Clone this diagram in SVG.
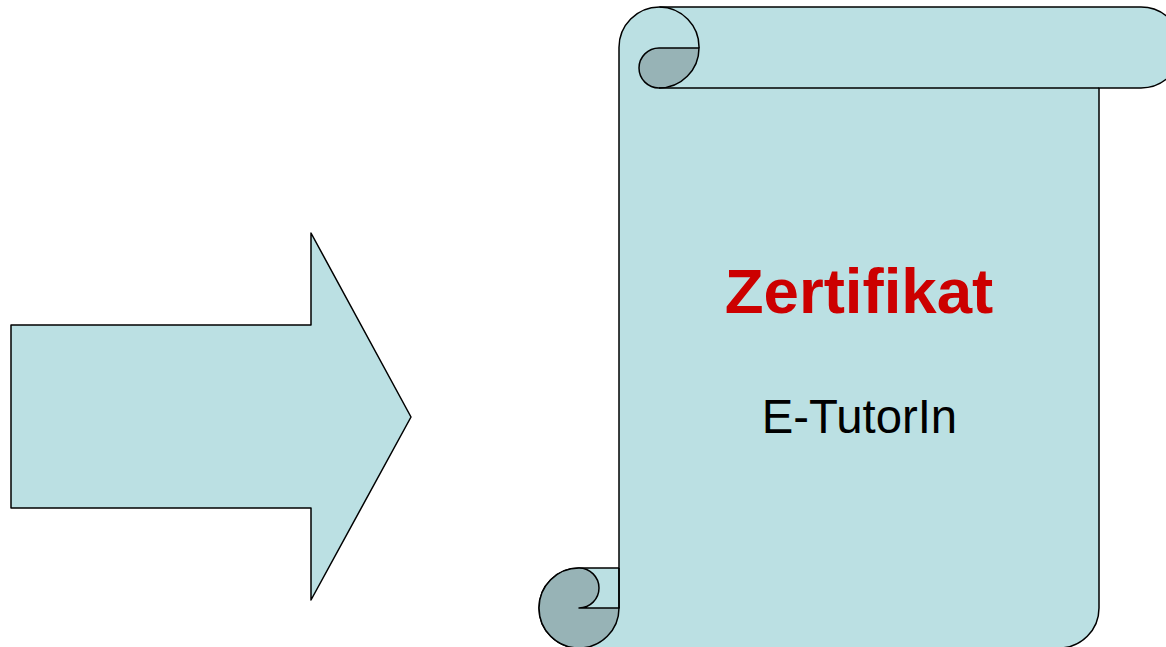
<svg xmlns="http://www.w3.org/2000/svg" width="1166" height="647" viewBox="0 0 1166 647">
<style>
.s{stroke:#000;stroke-width:1.5;stroke-linejoin:round}
.l{fill:#BBE0E3}
.d{fill:#97B3B6}
.t{font-family:"Liberation Sans",Arial,sans-serif;text-anchor:middle}
</style>
<rect width="1166" height="647" fill="#fff"/>
<g id="arrow">
<path class="s l" d="M11,325 L311,325 L311,233 L411,417 L311,600 L311,508 L11,508 Z"/>
</g>
<g id="scroll">
<path class="s l" d="M619,608 L619,48 A40.5,40.5 0 0 1 659.5,7 L1141,7 A40.5,40.5 0 0 1 1141,88 L1099,88 L1099,608 A40,40 0 0 1 1059,648 L579,648 A40,40 0 0 1 579,568 L619,568 Z"/>
<path class="s d" d="M659,48 L699,48 A40,40 0 0 1 659,88 A20,20 0 0 1 659,48 Z"/>
<path class="s" fill="none" d="M659.5,7 A40,40 0 0 1 699,48 M659,88 L1099,88"/>
<path class="s d" d="M579,568 A20,20 0 0 1 579,608 L619,608 A40,40 0 1 1 579,568 Z"/>
<path class="s" fill="none" d="M619,568 L619,608"/>
<text class="t" x="859" y="313" font-size="63.6" font-weight="bold" fill="#CC0000">Zertifikat</text>
<text class="t" x="859.5" y="433" font-size="47.3" fill="#000">E-TutorIn</text>
</g>
</svg>
